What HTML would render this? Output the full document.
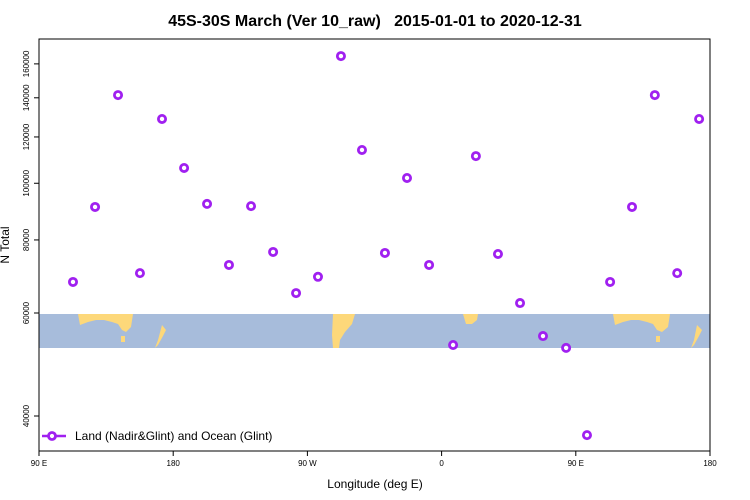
<!DOCTYPE html>
<html><head><meta charset="utf-8"><style>
body{margin:0;background:#fff}
svg{display:block;font-family:"Liberation Sans",sans-serif}
</style></head><body>
<svg id="c" width="750" height="500">
<text x="375" y="26" text-anchor="middle" font-size="16" font-weight="bold">45S-30S March (Ver 10_raw)&#160;&#160; 2015-01-01 to 2020-12-31</text>
<g>
<rect x="39" y="314" width="671" height="34" fill="#a7bcdb"/>
<g fill="#fdd87a">
<path d="M78,314 L133,314 L131,327 L126,332 L122,330 L118,324 L112,322 L104,320 L96,320 L88,322 L80,325 Z"/>
<rect x="121" y="336" width="4" height="6"/>
<path d="M162,325 L166,330 L163,336 L158,345 L155,348 L158,340 Z"/>
<path d="M333,314 L355,314 L352,324 L345,332 L340,340 L339,348 L333,348 L332,335 Z"/>
<path d="M463,314 L478,314 L477,320 L472,324 L466,324 Z"/>
<path d="M613,314 L670,314 L668,327 L662,332 L657,330 L653,324 L647,322 L639,320 L631,320 L623,322 L615,325 Z"/>
<rect x="656" y="336" width="4" height="6"/>
<path d="M697,325 L702,330 L699,336 L694,345 L691,348 L694,340 Z"/>
</g></g>
<rect x="39" y="39" width="671" height="412" fill="none" stroke="#000"/>
<g id="yax"></g>
<g id="xax"></g>
<g id="pts"></g>
<text x="9" y="245" transform="rotate(-90 9 245)" text-anchor="middle" font-size="12">N Total</text>
<text x="375" y="488" text-anchor="middle" font-size="12">Longitude (deg E)</text>
<g>
<line x1="42" y1="436" x2="66" y2="436" stroke="#a020f0" stroke-width="2.5"/>
<circle cx="52" cy="436" r="3.5" fill="#fff" stroke="#a020f0" stroke-width="2.8"/>
<text x="75" y="440" font-size="12">Land (Nadir&amp;Glint) and Ocean (Glint)</text>
</g>
</svg>
<script>
const lons=[112.8,127.6,143,157.7,172.5,187.3,202.7,217.4,232.2,247,262.4,277.1,292.5,306.6,322,336.8,351.6,367.7,383,397.8,412.6,428,443.5,457.5,473,487.7,503,518,532.7];
const values=[67800,91100,141500,70200,128800,106200,92200,72500,91400,76300,64900,69200,165000,114000,76000,102100,72500,52900,111300,75700,62400,54800,52300,37100,67800,91100,141500,70200,128800];
const yTicks=[40000,60000,80000,100000,120000,140000,160000];
const xTicks=[90,180,270,360,450,540];
const xTickLabels=["90 E","180","90 W","0","90 E","180"];
const NS="http://www.w3.org/2000/svg";
const X=l=>39+(l-90)*671/450;
const Y=v=>416-254*Math.log(v/40000);
function mk(t,a,p){const e=document.createElementNS(NS,t);for(const k in a)e.setAttribute(k,a[k]);p.appendChild(e);return e;}
const ya=document.getElementById('yax'),xa=document.getElementById('xax'),pg=document.getElementById('pts');
yTicks.forEach(v=>{const y=Y(v);
mk('line',{x1:34,x2:39,y1:y,y2:y,stroke:'#000'},ya);
const t=mk('text',{x:29,y:y,'font-size':8,'text-anchor':'middle',transform:`rotate(-90 29 ${y})`},ya);t.textContent=v;

});
xTicks.forEach((l,i)=>{const x=X(l);
mk('line',{x1:x,x2:x,y1:451,y2:456,stroke:'#000'},xa);
const t=mk('text',{x:x,y:466,'font-size':8,'text-anchor':'middle'},xa);t.textContent=xTickLabels[i];

});
lons.forEach((l,i)=>{const c=mk('circle',{cx:X(l),cy:Y(values[i]),r:3.6,fill:'#fff',stroke:'#a020f0','stroke-width':2.8},pg);

});
</script>
</body></html>
